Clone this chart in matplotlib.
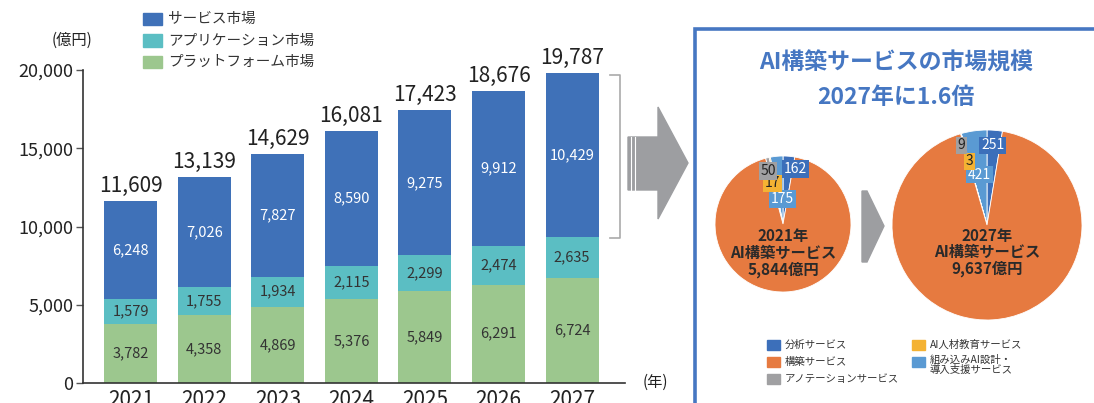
import matplotlib
matplotlib.use("Agg")
import matplotlib.pyplot as plt
from matplotlib.patches import Rectangle, Polygon
from matplotlib.lines import Line2D

plt.rcParams['font.family'] = ['Noto Sans CJK JP', 'DejaVu Sans']

# ---------------- data ----------------
years = ["2021", "2022", "2023", "2024", "2025", "2026", "2027"]
platform = [3782, 4358, 4869, 5376, 5849, 6291, 6724]
application = [1579, 1755, 1934, 2115, 2299, 2474, 2635]
service = [6248, 7026, 7827, 8590, 9275, 9912, 10429]
totals = [11609, 13139, 14629, 16081, 17423, 18676, 19787]
bar_series_names = ["サービス市場", "アプリケーション市場", "プラットフォーム市場"]

pie_names = ["分析サービス", "組み込みAI設計・\n導入支援サービス", "AI人材教育サービス",
             "アノテーションサービス", "構築サービス"]
pie2021 = [162, 175, 17, 50, 5440]
pie2027 = [251, 421, 3, 9, 8953]
pie_totals = ["5,844", "9,637"]
pie_years = ["2021", "2027"]

# ---------------- style ----------------
C_SERV = "#3f71b8"
C_APP = "#5bbec3"
C_PLAT = "#9cc78e"
C_TXT = "#222222"
PIE_COLORS = ["#3c6fba", "#5a9ad3", "#f4b233", "#a0a0a2", "#e67a40"]
BOX_BLUE = "#4677c2"

W, H = 1094, 403
fig = plt.figure(figsize=(W / 100, H / 100), dpi=100)


def fx(px):
    return px / W


def fy(py):
    return 1 - py / H


# ---------------- bar chart ----------------
ax = fig.add_axes([fx(83), fy(383), fx(625) - fx(83), fy(70) - fy(383)])
x = list(range(len(years)))
bw = 0.72
ax.bar(x, platform, bw, color=C_PLAT, zorder=2)
b_app = [p for p in platform]
ax.bar(x, application, bw, bottom=b_app, color=C_APP, zorder=2)
b_serv = [p + a for p, a in zip(platform, application)]
ax.bar(x, service, bw, bottom=b_serv, color=C_SERV, zorder=2)

for i in x:
    ax.text(i, platform[i] / 2, f"{platform[i]:,}", ha="center", va="center",
            fontsize=10.5, color="#333333")
    ax.text(i, platform[i] + application[i] / 2, f"{application[i]:,}", ha="center",
            va="center", fontsize=10.5, color="#333333")
    ax.text(i, b_serv[i] + service[i] / 2, f"{service[i]:,}", ha="center",
            va="center", fontsize=10.5, color="white")
    ax.annotate(f"{totals[i]:,}", (i, totals[i]), xytext=(0, 3),
                textcoords="offset points", ha="center", va="bottom",
                fontsize=15, color=C_TXT, annotation_clip=False)

ax.set_xlim(-0.65, 6.72)
ax.set_ylim(0, 20000)
ax.set_yticks([0, 5000, 10000, 15000, 20000])
ax.set_yticklabels([f"{v:,}" for v in [0, 5000, 10000, 15000, 20000]], fontsize=13,
                   color=C_TXT)
ax.set_xticks(x)
ax.set_xticklabels(years, fontsize=15, color=C_TXT)
ax.tick_params(axis="x", length=0, pad=4)
ax.tick_params(axis="y", length=5, width=1, color="#555555", pad=2)
for s in ["top", "right"]:
    ax.spines[s].set_visible(False)
for s in ["left", "bottom"]:
    ax.spines[s].set_color("#333333")
    ax.spines[s].set_linewidth(1.2)
ax.set_facecolor("none")

fig.text(fx(72), fy(40), "(億円)", ha="center", va="center", fontsize=11, color=C_TXT)
fig.text(fx(655), fy(382), "(年)", ha="center", va="center", fontsize=11, color=C_TXT)

# legend (top)
for k, (name, col) in enumerate(zip(bar_series_names, [C_SERV, C_APP, C_PLAT])):
    yc = 19 + k * 21.5
    fig.patches.append(Rectangle((fx(143), fy(yc + 6)), fx(162) - fx(143),
                                 fy(yc - 6) - fy(yc + 6), color=col,
                                 transform=fig.transFigure))
    fig.text(fx(168), fy(yc), name, ha="left", va="center", fontsize=10.5,
             color="#333333")

# bracket
fig.add_artist(Line2D([fx(610), fx(620), fx(620), fx(610)],
                      [fy(75), fy(75), fy(238), fy(238)], color="#aaaaaa", lw=1.2,
                      transform=fig.transFigure))

# big arrow
arrow_pts = [(628, 137), (658, 137), (658, 107), (688, 163), (658, 219),
             (658, 190), (628, 190)]
fig.patches.append(Polygon([(fx(a), fy(b)) for a, b in arrow_pts], closed=True,
                           color="#9d9ea1", transform=fig.transFigure))
for sx in [631, 635]:
    fig.add_artist(Line2D([fx(sx), fx(sx)], [fy(137), fy(190)], color="white",
                          lw=0.8, transform=fig.transFigure))

# right box
fig.patches.append(Rectangle((fx(695), fy(420)), fx(1110) - fx(695), fy(29.5) - fy(420),
                             fill=False, edgecolor=BOX_BLUE, lw=2.6,
                             transform=fig.transFigure, clip_on=False))
fig.text(fx(896), fy(63), "AI構築サービスの市場規模", ha="center", va="center",
         fontsize=16.5, fontweight="bold", color=BOX_BLUE)
fig.text(fx(896), fy(98), "2027年に1.6倍", ha="center", va="center",
         fontsize=16.5, fontweight="bold", color=BOX_BLUE)


# ---------------- pies ----------------
def draw_pie(cx, cy, r, vals, labels_pos, center_y, year, total):
    pax = fig.add_axes([fx(cx - r), fy(cy + r), fx(2 * r), fy(cy - r) - fy(cy + r)])
    start = 90 - vals[0] / sum(vals) * 360
    pax.pie(vals, colors=PIE_COLORS, startangle=start, counterclock=True,
            radius=1, wedgeprops=dict(edgecolor="white", linewidth=0.6))
    pax.set_xlim(-1, 1)
    pax.set_ylim(-1, 1)
    pax.set_aspect("equal")
    pax.axis("off")
    txt_cols = ["white", "white", "#222222", "#222222"]
    for j in range(4):
        lx, ly = labels_pos[j]
        pax.text(lx, ly, f"{vals[j]}", ha="center", va="center", fontsize=10,
                 color=txt_cols[j],
                 bbox=dict(boxstyle="square,pad=0.12", fc=PIE_COLORS[j], ec="none"))
    pax.text(0, center_y, f"{year}年\nAI構築サービス\n{total}億円", ha="center",
             va="center", fontsize=11, fontweight="bold", color="#2a2a2a",
             linespacing=1.05)


draw_pie(783, 224, 68, pie2021,
         [(0.18, 0.81), (-0.01, 0.37), (-0.15, 0.60), (-0.22, 0.78)],
         -0.43, pie_years[0], pie_totals[0])
draw_pie(987, 225, 95, pie2027,
         [(0.06, 0.84), (-0.08, 0.53), (-0.18, 0.67), (-0.27, 0.84)],
         -0.29, pie_years[1], pie_totals[1])

# small arrow between pies
sa = [(862, 191), (867, 191), (884, 226), (867, 262), (862, 262)]
fig.patches.append(Polygon([(fx(a), fy(b)) for a, b in sa], closed=True,
                           color="#9d9ea1", transform=fig.transFigure))

# pie legend
leg = [(0, 767, 345), (4, 767, 362), (3, 767, 379), (2, 912, 345), (1, 912, 362)]
for idx, lx, ly in leg:
    fig.patches.append(Rectangle((fx(lx), fy(ly + 5)), fx(13), fy(ly - 5) - fy(ly + 5),
                                 color=PIE_COLORS[idx], transform=fig.transFigure))
    va = "center" if "\n" not in pie_names[idx] else "top"
    ty = ly if va == "center" else ly - 7
    fig.text(fx(lx + 18), fy(ty), pie_names[idx], ha="left", va=va, fontsize=7.5,
             color="#333333", linespacing=1.0)

fig.savefig("out.png", dpi=100)
